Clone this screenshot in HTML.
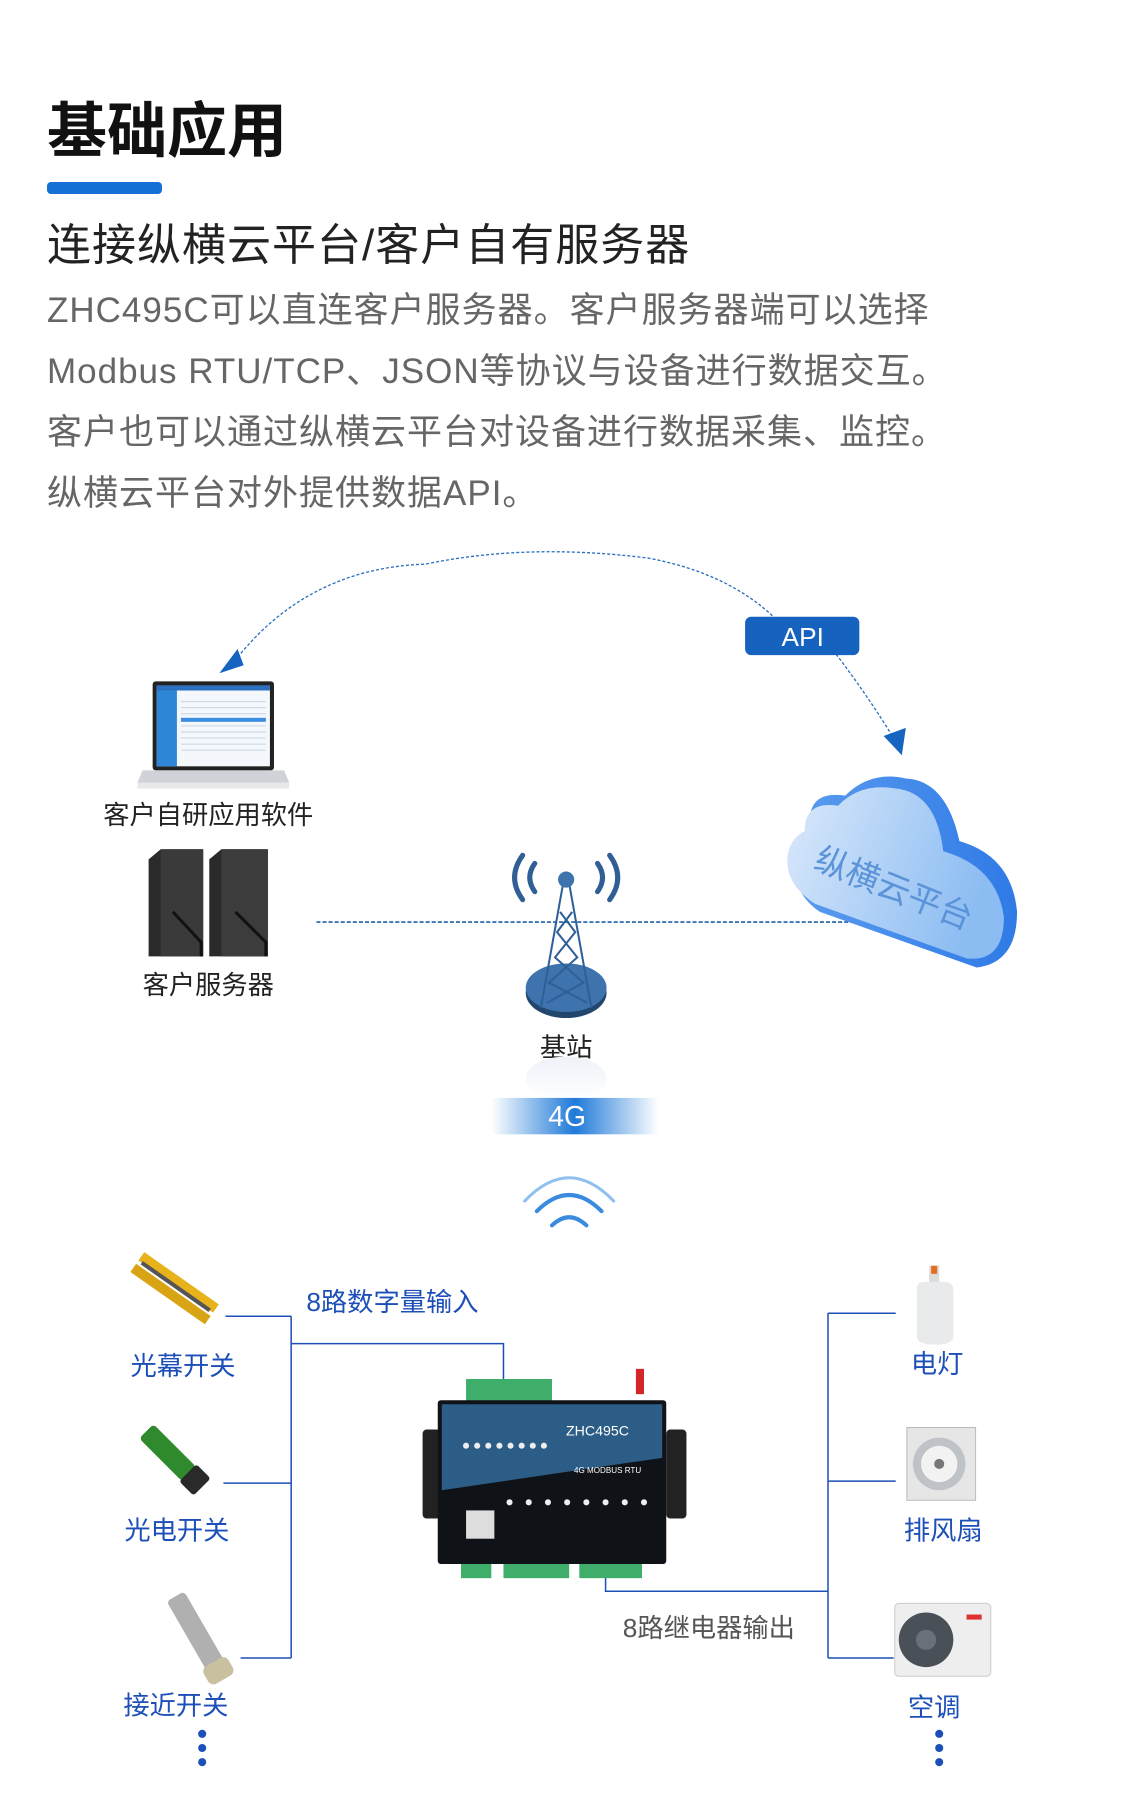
<!DOCTYPE html>
<html><head><meta charset="utf-8"><style>
html,body{margin:0;padding:0;background:#fff;}
svg{display:block;}
text{font-family:"Liberation Sans","Noto Sans CJK SC",sans-serif;}
</style></head><body>
<svg width="1140" height="1807" viewBox="0 0 1140 1807" xmlns="http://www.w3.org/2000/svg">
<defs>
<linearGradient id="cl" x1="0" y1="0" x2="1" y2="0.3"><stop offset="0" stop-color="#dbe9fb"/><stop offset="1" stop-color="#8bbcf2"/></linearGradient>
<linearGradient id="cs" x1="0" y1="0" x2="1" y2="0"><stop offset="0" stop-color="#5b9cf0"/><stop offset="1" stop-color="#2f7ae6"/></linearGradient>
<linearGradient id="g4" x1="0" y1="0" x2="1" y2="0"><stop offset="0" stop-color="#fff"/><stop offset="0.5" stop-color="#1f7ad8"/><stop offset="1" stop-color="#fff"/></linearGradient>
<linearGradient id="tw" x1="0" y1="0" x2="0" y2="1"><stop offset="0" stop-color="#eef2f8"/><stop offset="1" stop-color="#fff"/></linearGradient>
</defs>

<text x="47" y="152" font-size="60" font-weight="bold" fill="#111">基础应用</text>
<rect x="47" y="182" width="115" height="12" rx="4" fill="#1670d6"/>
<text x="47" y="260" font-size="44" fill="#222" letter-spacing="1">连接纵横云平台/客户自有服务器</text>
<g font-size="35" fill="#666" letter-spacing="1">
<text x="47" y="322">ZHC495C可以直连客户服务器。客户服务器端可以选择</text>
<text x="47" y="383">Modbus RTU/TCP、JSON等协议与设备进行数据交互。</text>
<text x="47" y="444">客户也可以通过纵横云平台对设备进行数据采集、监控。</text>
<text x="47" y="505">纵横云平台对外提供数据API。</text>
</g>

<g transform="translate(1,2) scale(1.011)">
<!-- arc -->
<path d="M228 656 Q 300 560 420 556 Q 520 535 640 550 Q 720 565 766 610" fill="none" stroke="#2a6fc0" stroke-width="1.3" stroke-dasharray="3,2"/>
<path d="M826 645 Q 860 690 884 730" fill="none" stroke="#2a6fc0" stroke-width="1.3" stroke-dasharray="3,2"/>
<polygon points="216,664 234,640 240,656" fill="#1565c0"/>
<polygon points="873,726 895,718 891,745" fill="#1565c0"/>
<rect x="736" y="608" width="113" height="38" rx="6" fill="#1563bf"/>
<text x="793" y="637" font-size="26" fill="#fff" text-anchor="middle">API</text>

<!-- laptop -->
<rect x="150" y="672" width="120" height="88" rx="3" fill="#222"/>
<rect x="154" y="676" width="112" height="80" fill="#f4f7fb"/>
<rect x="154" y="676" width="112" height="5" fill="#2a6fc0"/>
<rect x="154" y="681" width="20" height="75" fill="#2e86d6"/>
<g stroke="#c8d4e2" stroke-width="1">
<line x1="178" y1="692" x2="262" y2="692"/><line x1="178" y1="698" x2="262" y2="698"/><line x1="178" y1="704" x2="262" y2="704"/><line x1="178" y1="710" x2="262" y2="710"/><line x1="178" y1="716" x2="262" y2="716"/><line x1="178" y1="722" x2="262" y2="722"/><line x1="178" y1="728" x2="262" y2="728"/><line x1="178" y1="734" x2="262" y2="734"/><line x1="178" y1="740" x2="262" y2="740"/></g>
<rect x="178" y="708" width="84" height="4" fill="#3b8de0"/>
<path d="M140 760 L280 760 L285 772 L135 772 Z" fill="#cfd2d6"/>
<rect x="135" y="772" width="150" height="6" fill="#e6e8ea"/>
<text x="205" y="813" font-size="26" fill="#222" text-anchor="middle">客户自研应用软件</text>

<!-- servers -->
<g>
<path d="M146 848 L158 838 L200 838 L200 944 L146 944 Z" fill="#2a2a2a"/>
<rect x="158" y="838" width="42" height="106" fill="#3a3a3a"/>
<path d="M206 848 L218 838 L264 838 L264 944 L206 944 Z" fill="#2a2a2a"/>
<rect x="218" y="838" width="46" height="106" fill="#3c3c3c"/>
<path d="M170 900 L198 930 L198 944 M232 900 L262 930 L262 944" stroke="#111" stroke-width="3" fill="none"/>
</g>
<text x="205" y="981" font-size="26" fill="#222" text-anchor="middle">客户服务器</text>

<line x1="312" y1="910" x2="885" y2="910" stroke="#1f5fa8" stroke-width="1.6" stroke-dasharray="4,2"/>

<!-- cloud -->
<path d="M800 810 Q800 780 835 785 Q860 760 895 768 Q935 770 948 830 Q1000 845 1005 900 Q1005 950 965 955 L810 900 Q780 880 785 840 Z" fill="url(#cs)"/>
<path d="M795 820 Q795 790 828 795 Q850 772 885 778 Q925 782 932 840 Q985 855 992 905 Q992 950 955 946 L805 892 Q775 872 778 845 Q780 828 795 820 Z" fill="url(#cl)"/>
<text x="883" y="888" font-size="33" fill="#5b93d8" text-anchor="middle" transform="rotate(22 883 877)">纵横云平台</text>

<!-- tower -->
<g fill="none" stroke="#2f5f95" stroke-width="5" stroke-linecap="round">
<path d="M528 852 Q518 866 528 880"/><path d="M516 844 Q500 866 516 888"/>
<path d="M590 852 Q600 866 590 880"/><path d="M602 844 Q618 866 602 888"/>
</g>
<ellipse cx="559" cy="980" rx="40" ry="25" fill="#23466e"/>
<ellipse cx="559" cy="975" rx="40" ry="24" fill="#3e73ad"/>
<g stroke="#2d5f98" stroke-width="2" fill="none">
<path d="M556 872 L534 995 M562 872 L584 995"/>
<path d="M553 900 L568 920 L548 945 L576 970 L540 990 M565 900 L550 920 L570 945 L542 970 L580 990"/>
</g>
<circle cx="559" cy="868" r="8" fill="#3e73ad"/>
<text x="559" y="1043" font-size="26" fill="#222" text-anchor="middle">基站</text>
<ellipse cx="559" cy="1065" rx="40" ry="22" fill="url(#tw)"/>

<rect x="485" y="1084" width="165" height="36" fill="url(#g4)"/>
<text x="560" y="1112" font-size="28" fill="#fff" text-anchor="middle">4G</text>

<g fill="none" stroke="#3a8be0" stroke-linecap="round">
<path d="M518 1186 Q562 1140 606 1186" stroke-width="3" stroke="#8fc0f0"/>
<path d="M530 1196 Q562 1164 594 1196" stroke-width="4"/>
<path d="M545 1210 Q562 1194 579 1210" stroke-width="4"/>
</g>

<g stroke="#1d4fb8" stroke-width="1.5" fill="none">
<polyline points="287,1327 497,1327 497,1362"/>
<line x1="287" y1="1300" x2="287" y2="1638"/>
<line x1="222" y1="1300" x2="287" y2="1300"/>
<line x1="220" y1="1465" x2="287" y2="1465"/>
<line x1="237" y1="1638" x2="287" y2="1638"/>
<polyline points="598,1545 598,1572 818,1572"/>
<line x1="818" y1="1297" x2="818" y2="1638"/>
<line x1="818" y1="1297" x2="885" y2="1297"/>
<line x1="818" y1="1463" x2="885" y2="1463"/>
<line x1="818" y1="1638" x2="883" y2="1638"/>
</g>
<text x="302" y="1295" font-size="26" fill="#1d4fb8">8路数字量输入</text>
<text x="615" y="1617" font-size="26" fill="#555">8路继电器输出</text>

<rect x="460" y="1362" width="85" height="22" fill="#3fae6a"/>
<rect x="628" y="1352" width="8" height="25" fill="#d3262b"/>
<rect x="417" y="1412" width="18" height="88" rx="4" fill="#222"/>
<rect x="658" y="1412" width="20" height="88" rx="4" fill="#222"/>
<rect x="432" y="1383" width="226" height="162" rx="3" fill="#0f1216"/>
<path d="M436 1387 L654 1387 L654 1440 L436 1472 Z" fill="#2c5d86"/>
<text x="590" y="1418" font-size="14" fill="#fff" text-anchor="middle">ZHC495C</text>
<text x="600" y="1455" font-size="8" fill="#fff" text-anchor="middle">4G MODBUS RTU</text>
<g fill="#eee"><circle cx="460" cy="1428" r="3"/><circle cx="471" cy="1428" r="3"/><circle cx="482" cy="1428" r="3"/><circle cx="493" cy="1428" r="3"/><circle cx="504" cy="1428" r="3"/><circle cx="515" cy="1428" r="3"/><circle cx="526" cy="1428" r="3"/><circle cx="537" cy="1428" r="3"/>
<circle cx="503" cy="1484" r="3"/><circle cx="522" cy="1484" r="3"/><circle cx="541" cy="1484" r="3"/><circle cx="560" cy="1484" r="3"/><circle cx="579" cy="1484" r="3"/><circle cx="598" cy="1484" r="3"/><circle cx="617" cy="1484" r="3"/><circle cx="636" cy="1484" r="3"/></g>
<rect x="460" y="1492" width="28" height="28" fill="#ddd"/>
<rect x="455" y="1545" width="30" height="14" fill="#3fae6a"/>
<rect x="497" y="1545" width="65" height="14" fill="#3fae6a"/>
<rect x="572" y="1545" width="62" height="14" fill="#3fae6a"/>

<g transform="rotate(35 172 1270)"><rect x="128" y="1260" width="90" height="10" fill="#e7b21a"/><rect x="128" y="1274" width="90" height="10" fill="#d9a414"/><rect x="132" y="1268" width="82" height="4" fill="#555"/></g>
<text x="180" y="1358" font-size="26" fill="#1d4fb8" text-anchor="middle">光幕开关</text>
<g transform="rotate(45 172 1442)"><rect x="132" y="1432" width="60" height="20" rx="4" fill="#2f8a2e"/><rect x="190" y="1430" width="20" height="24" rx="3" fill="#2a2a2a"/></g>
<text x="174" y="1521" font-size="26" fill="#1d4fb8" text-anchor="middle">光电开关</text>
<g transform="rotate(60 195 1616)"><rect x="150" y="1606" width="90" height="20" rx="4" fill="#b0b0b0"/><rect x="225" y="1602" width="20" height="28" rx="6" fill="#c9c0a0"/></g>
<text x="173" y="1694" font-size="26" fill="#1d4fb8" text-anchor="middle">接近开关</text>
<g fill="#1d4fb8"><circle cx="199" cy="1713" r="4"/><circle cx="199" cy="1727" r="4"/><circle cx="199" cy="1741" r="4"/></g>

<rect x="918" y="1250" width="10" height="20" fill="#ddd"/><rect x="920" y="1250" width="6" height="8" fill="#e07020"/>
<path d="M906 1272 Q906 1266 914 1266 L932 1266 Q942 1266 942 1274 L942 1320 Q942 1328 924 1328 Q906 1328 906 1320 Z" fill="#e8eaec"/>
<text x="926" y="1356" font-size="26" fill="#1d4fb8" text-anchor="middle">电灯</text>
<rect x="896" y="1410" width="68" height="72" fill="#e6e6e6" stroke="#bbb"/>
<circle cx="928" cy="1446" r="26" fill="#bfc3c7"/><circle cx="928" cy="1446" r="18" fill="#f2f2f2"/><circle cx="928" cy="1446" r="5" fill="#777"/>
<text x="932" y="1521" font-size="26" fill="#1d4fb8" text-anchor="middle">排风扇</text>
<rect x="884" y="1584" width="95" height="72" rx="4" fill="#eeeeee" stroke="#ccc"/>
<circle cx="915" cy="1620" r="27" fill="#4a5058"/><circle cx="915" cy="1620" r="10" fill="#6a7078"/>
<rect x="955" y="1595" width="15" height="5" fill="#d33"/>
<text x="923" y="1696" font-size="26" fill="#1d4fb8" text-anchor="middle">空调</text>
<g fill="#1d4fb8"><circle cx="928" cy="1713" r="4"/><circle cx="928" cy="1727" r="4"/><circle cx="928" cy="1741" r="4"/></g>
</g>
</svg>
</body></html>
